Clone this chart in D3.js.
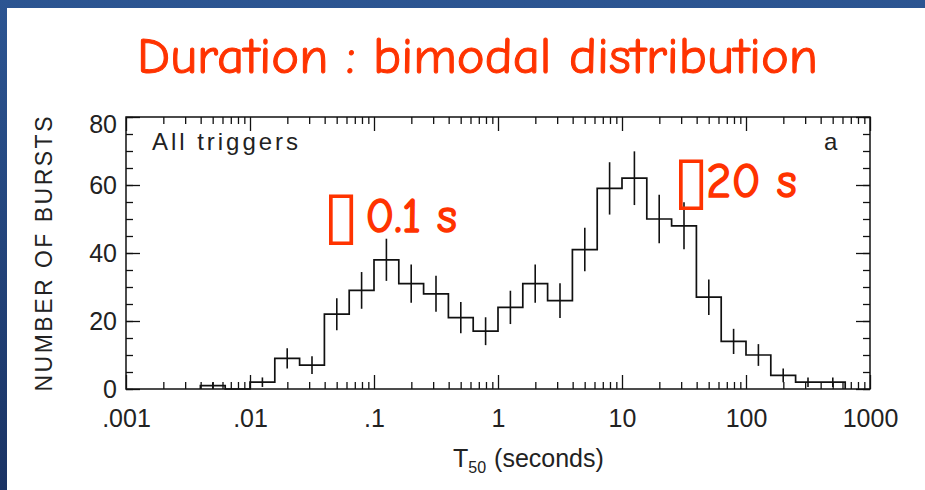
<!DOCTYPE html>
<html lang="en">
<head>
<meta charset="utf-8">
<title>Duration : bimodal distribution</title>
<script src="https://cdn.jsdelivr.net/npm/d3@7"></script>
<style>
  body { margin: 0; background: #fff; }
  .tick text { font-family: "Liberation Sans", Arial, sans-serif; fill: #222; }
  .tick line { stroke: #111; stroke-width: 1.3px; }
  .red { font-family: "Comic Sans MS", "Comic Neue", cursive, sans-serif; fill: #ff3300; }
</style>
</head>
<body>
<div id="chart"></div>
<script>
// histogram of T50, 5 bins per decade (lower edge in log10 seconds)
var binStartLog = [-2.4, -2.2, -2.0, -1.8, -1.6, -1.4, -1.2, -1.0, -0.8, -0.6, -0.4, -0.2, 0.0,
                   0.2, 0.4, 0.6, 0.8, 1.0, 1.2, 1.4, 1.6, 1.8, 2.0, 2.2, 2.4, 2.6];
var binWidthLog = 0.2;
var counts = [1, 0, 2, 9, 7, 22, 29, 38, 31, 28, 21, 17, 24,
              31, 26, 41, 59, 62, 50, 48, 27, 14, 10, 4, 2, 2];
var errors = [1, 0, 1.4, 3, 2.6, 4.7, 5.4, 6.2, 5.6, 5.3, 4.6, 4.1, 4.9,
              5.6, 5.1, 6.4, 7.7, 7.9, 7.1, 6.9, 5.2, 3.7, 3.2, 2, 1.4, 1.4];

var xTickValues = [0.001, 0.01, 0.1, 1, 10, 100, 1000];
var xTickLabels = [".001", ".01", ".1", "1", "10", "100", "1000"];
var yTickValues = [0, 20, 40, 60, 80];
var yMinorValues = d3.range(0, 81, 5);

var width = 925, height = 490;
var pLeft = 126, pRight = 870, pTop = 117, pBottom = 389;

var svg = d3.select("#chart").append("svg")
    .attr("width", width)
    .attr("height", height);

// slide background: blue frame on top and left
var grad = svg.append("defs").append("linearGradient")
    .attr("id", "bg").attr("x1", 0).attr("y1", 0).attr("x2", 0).attr("y2", 1);
grad.append("stop").attr("offset", "0%").attr("stop-color", "#2c5592");
grad.append("stop").attr("offset", "100%").attr("stop-color", "#1a3364");
svg.append("rect").attr("width", width).attr("height", height).attr("fill", "url(#bg)");
svg.append("rect").attr("x", 7).attr("y", 8).attr("width", width - 7).attr("height", height - 8)
    .attr("fill", "#fff");

var x = d3.scaleLog().domain([0.001, 1000]).range([pLeft, pRight]);
var y = d3.scaleLinear().domain([0, 80]).range([pBottom, pTop]);

var minorX = x.ticks().filter(function(d) { return xTickValues.indexOf(d) < 0; });

function noDomain(g) { g.select(".domain").remove(); }

// x axes (ticks pointing inward)
svg.append("g").attr("transform", "translate(0," + pBottom + ")")
    .call(d3.axisBottom(x).tickValues(minorX).tickSize(-7).tickFormat(""))
    .call(noDomain);
svg.append("g").attr("transform", "translate(0," + pBottom + ")")
    .call(d3.axisBottom(x).tickValues(xTickValues).tickSize(-14).tickPadding(20)
      .tickFormat(function(d, i) { return xTickLabels[i]; }))
    .call(noDomain)
    .selectAll("text").attr("font-size", 25);
svg.append("g").attr("transform", "translate(0," + pTop + ")")
    .call(d3.axisTop(x).tickValues(minorX).tickSize(-7).tickFormat(""))
    .call(noDomain);
svg.append("g").attr("transform", "translate(0," + pTop + ")")
    .call(d3.axisTop(x).tickValues(xTickValues).tickSize(-14).tickFormat(""))
    .call(noDomain);

// y axes
svg.append("g").attr("transform", "translate(" + pLeft + ",0)")
    .call(d3.axisLeft(y).tickValues(yMinorValues).tickSize(-7).tickFormat(""))
    .call(noDomain);
svg.append("g").attr("transform", "translate(" + pLeft + ",0)")
    .call(d3.axisLeft(y).tickValues(yTickValues).tickSize(-14).tickPadding(9))
    .call(noDomain)
    .selectAll("text").attr("font-size", 25)
    .attr("dy", function(d) { return d === 80 ? "0.62em" : "0.32em"; });
svg.append("g").attr("transform", "translate(" + pRight + ",0)")
    .call(d3.axisRight(y).tickValues(yMinorValues).tickSize(-7).tickFormat(""))
    .call(noDomain);
svg.append("g").attr("transform", "translate(" + pRight + ",0)")
    .call(d3.axisRight(y).tickValues(yTickValues).tickSize(-14).tickFormat(""))
    .call(noDomain);

// frame
svg.append("rect")
    .attr("x", pLeft).attr("y", pTop)
    .attr("width", pRight - pLeft).attr("height", pBottom - pTop)
    .attr("fill", "none").attr("stroke", "#111").attr("stroke-width", 1.5);

// histogram step line
var pts = [[Math.pow(10, binStartLog[0]), 0]];
binStartLog.forEach(function(b, i) {
  pts.push([Math.pow(10, b), counts[i]]);
  pts.push([Math.pow(10, b + binWidthLog), counts[i]]);
});
pts.push([Math.pow(10, binStartLog[binStartLog.length - 1] + binWidthLog), 0]);

var line = d3.line()
    .x(function(d) { return x(d[0]); })
    .y(function(d) { return y(d[1]); });

svg.append("path")
    .datum(pts)
    .attr("d", line)
    .attr("fill", "none")
    .attr("stroke", "#111")
    .attr("stroke-width", 1.7);

// error bars at bin centres
var bars = binStartLog.map(function(b, i) {
  return {c: b + binWidthLog / 2, n: counts[i], e: errors[i]};
}).filter(function(d) { return d.n > 0; });

svg.append("g").selectAll("line")
    .data(bars)
    .enter().append("line")
    .attr("x1", function(d) { return x(Math.pow(10, d.c)); })
    .attr("x2", function(d) { return x(Math.pow(10, d.c)); })
    .attr("y1", function(d) { return y(Math.max(0, d.n - d.e)); })
    .attr("y2", function(d) { return y(d.n + d.e); })
    .attr("stroke", "#111")
    .attr("stroke-width", 1.6);

// labels
svg.append("text")
    .attr("x", 152).attr("y", 150)
    .attr("font-family", "Liberation Sans, Arial, sans-serif")
    .attr("font-size", 24).attr("fill", "#222")
    .attr("textLength", 146).attr("lengthAdjust", "spacing")
    .text("All triggers");
svg.append("text")
    .attr("x", 824).attr("y", 150)
    .attr("font-family", "Liberation Sans, Arial, sans-serif")
    .attr("font-size", 24).attr("fill", "#222")
    .text("a");

svg.append("text")
    .attr("transform", "translate(52,254) rotate(-90)")
    .attr("text-anchor", "middle")
    .attr("font-family", "Liberation Sans, Arial, sans-serif")
    .attr("font-size", 23).attr("fill", "#222")
    .attr("textLength", 275).attr("lengthAdjust", "spacing")
    .text("NUMBER OF BURSTS");

var xt = svg.append("text")
    .attr("x", 453).attr("y", 467)
    .attr("font-family", "Liberation Sans, Arial, sans-serif")
    .attr("font-size", 25).attr("fill", "#222");
xt.append("tspan").text("T");
xt.append("tspan").attr("dy", 6).attr("font-size", 16).text("50");
xt.append("tspan").attr("dy", -6).attr("dx", 8).text("(seconds)");

// title and annotations
svg.append("text")
    .attr("class", "red")
    .attr("x", 137).attr("y", 73)
    .attr("font-size", 50)
    .attr("stroke", "#ff3300").attr("stroke-width", 1)
    .attr("textLength", 681).attr("lengthAdjust", "spacingAndGlyphs")
    .text("Duration : bimodal distribution");

function annotation(x0, y0, label, gap) {
  var t = svg.append("text").attr("class", "red")
      .attr("x", x0).attr("y", y0).attr("font-size", 48)
      .attr("stroke", "#ff3300").attr("stroke-width", 1.6);
  t.append("tspan").attr("font-family", "DejaVu Sans").attr("font-size", 66)
      .attr("stroke-width", 0).attr("dy", 5).text("\u25AF");
  t.append("tspan").attr("dx", gap).attr("dy", -5).text(label);
}
annotation(323, 232, "0.1 s", 6);
annotation(673, 197, "20 s", -3);
</script>
</body>
</html>
